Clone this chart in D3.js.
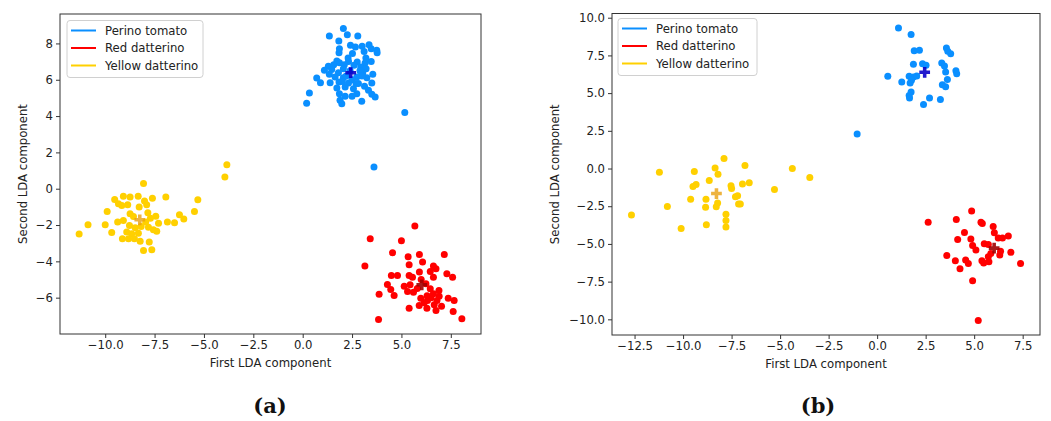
<!DOCTYPE html>
<html>
<head>
<meta charset="utf-8">
<script src="https://cdn.jsdelivr.net/npm/d3@7"></script>
<style>
  html, body { margin: 0; padding: 0; background: #fff; }
  svg { display: block; }
  text { font-family: "DejaVu Sans", sans-serif; }
</style>
</head>
<body>
<svg id="chart" width="1051" height="421"></svg>
<script>
// ---------- DATA ----------
const seriesNames = ["Perino tomato", "Red datterino", "Yellow datterino"];
const seriesColors = ["#0a8fff", "#ff0000", "#ffd000"];
const centroidColors = ["#0a00c8", "#a00000", "#e8a010"];

// Panel (a)
const aPerino = [[2.06,8.82],[1.35,8.41],[2.26,8.48],[2.79,8.41],[1.83,8.13],[2.42,7.90],[2.67,7.80],[3.01,7.84],[3.36,7.93],[3.47,7.71],[3.75,7.62],[3.77,7.49],[1.86,7.71],[1.84,7.49],[2.52,7.44],[3.11,7.56],[1.73,7.03],[1.86,6.94],[2.32,7.01],[2.76,6.98],[3.16,6.92],[3.47,7.00],[1.30,6.74],[1.57,6.83],[2.11,6.83],[2.94,6.70],[1.10,6.52],[1.47,6.56],[2.06,6.61],[3.21,6.61],[1.81,6.39],[1.35,6.30],[3.04,6.37],[3.55,6.30],[1.64,6.15],[2.06,6.11],[2.74,6.15],[3.25,6.11],[0.71,6.09],[0.90,5.84],[1.39,5.84],[1.84,5.87],[2.32,5.82],[2.82,5.79],[3.50,5.82],[1.73,5.54],[2.15,5.60],[2.57,5.51],[3.13,5.64],[3.33,5.42],[3.50,5.20],[1.86,5.23],[2.15,5.09],[2.74,5.23],[1.89,4.87],[2.50,5.09],[2.99,4.81],[1.98,4.68],[0.34,5.27],[0.20,4.70],[3.67,5.05],[2.2,6.2],[2.5,6.0],[2.9,6.5],[2.4,6.5],[2.7,5.8],[2.0,5.9],[3.0,6.2],[2.6,6.8],[2.3,7.2],[3.2,7.2],[5.17,4.20],[3.61,1.19]];
const aRed = [[5.68,-2.06],[3.42,-2.75],[5.00,-2.86],[3.15,-4.26],[4.55,-3.53],[5.34,-3.75],[5.91,-3.62],[7.17,-3.62],[5.39,-4.19],[6.07,-4.04],[6.62,-4.26],[6.75,-4.41],[5.91,-4.59],[6.46,-4.56],[4.49,-4.78],[4.80,-4.78],[5.39,-4.78],[5.56,-4.87],[6.62,-4.87],[7.30,-4.68],[7.59,-4.87],[4.29,-5.27],[5.14,-5.37],[5.44,-5.29],[6.24,-5.23],[6.46,-5.51],[4.46,-5.55],[5.31,-5.66],[5.61,-5.70],[6.62,-5.79],[6.91,-5.92],[7.37,-6.03],[7.67,-6.15],[3.87,-5.81],[4.63,-5.88],[5.98,-6.03],[6.32,-6.15],[6.80,-6.15],[5.90,-6.43],[6.15,-6.28],[6.66,-6.39],[7.03,-6.47],[5.39,-6.58],[6.29,-6.58],[6.75,-6.71],[7.62,-6.76],[3.84,-7.20],[8.06,-7.16],[6.0,-5.0],[6.3,-5.9],[6.5,-6.0],[5.8,-5.5],[6.9,-5.6]];
const aYellow = [[-8.06,0.28],[-9.52,-0.59],[-9.08,-0.42],[-8.74,-0.46],[-8.33,-0.41],[-7.61,-0.52],[-6.93,-0.46],[-9.33,-0.83],[-9.16,-0.92],[-8.86,-0.88],[-8.01,-0.68],[-8.28,-1.01],[-7.90,-0.88],[-9.90,-1.25],[-8.74,-1.38],[-7.84,-1.32],[-7.44,-1.51],[-8.57,-1.53],[-7.71,-1.62],[-9.37,-1.84],[-9.08,-1.75],[-7.95,-1.84],[-7.30,-1.90],[-6.85,-1.84],[-6.49,-1.87],[-6.24,-1.43],[-6.02,-1.67],[-5.48,-1.25],[-5.31,-0.61],[-10.87,-1.98],[-10.00,-1.98],[-11.32,-2.50],[-9.67,-2.41],[-8.77,-2.02],[-8.48,-2.15],[-8.18,-2.08],[-7.81,-2.12],[-7.56,-2.26],[-7.39,-2.34],[-8.91,-2.39],[-8.66,-2.48],[-8.32,-2.45],[-9.13,-2.76],[-8.82,-2.76],[-8.52,-2.76],[-8.23,-2.89],[-7.77,-2.94],[-8.06,-3.40],[-7.64,-3.36],[-3.84,1.32],[-3.94,0.64]];
const aCentroids = [[2.43,6.39],[6.03,-5.29],[-8.25,-1.71]];
const aXTicks = [-10,-7.5,-5,-2.5,0,2.5,5,7.5];
const aYTicks = [-6,-4,-2,0,2,4,6,8];

// Panel (b)
const bPerino = [[1.10,9.31],[1.75,8.89],[1.91,7.81],[2.18,7.85],[3.57,7.99],[3.79,7.61],[3.64,7.77],[1.87,6.91],[2.34,6.95],[2.52,6.84],[3.33,6.99],[3.47,6.79],[3.53,6.40],[4.06,6.49],[4.10,6.29],[0.55,6.11],[1.65,6.11],[1.87,6.07],[2.04,6.13],[1.77,5.85],[1.27,5.74],[1.70,5.67],[3.62,5.91],[3.36,5.56],[3.53,5.43],[1.75,5.07],[1.65,4.85],[1.67,4.68],[2.70,4.68],[3.26,4.57],[2.39,4.24],[-1.03,2.29]];
const bRed = [[4.87,-2.81],[2.63,-3.56],[4.08,-3.38],[5.35,-3.56],[5.42,-3.64],[5.98,-3.84],[6.04,-4.26],[4.50,-4.24],[4.15,-4.70],[4.83,-4.68],[6.24,-4.60],[6.46,-4.60],[6.76,-4.48],[4.92,-5.10],[5.09,-5.41],[5.52,-4.99],[5.73,-5.03],[6.36,-5.48],[6.32,-5.74],[6.89,-5.56],[7.39,-6.29],[3.59,-5.76],[4.03,-6.12],[4.56,-6.07],[4.70,-6.29],[4.27,-6.65],[5.40,-6.12],[5.49,-6.27],[5.76,-6.18],[5.73,-5.85],[5.86,-5.63],[4.92,-7.44],[5.21,-10.07]];
const bYellow = [[-7.89,0.66],[-11.22,-0.25],[-9.42,-0.20],[-8.35,0.04],[-8.20,-0.38],[-6.81,0.20],[-4.37,0.0],[-3.47,-0.60],[-8.65,-0.79],[-9.33,-1.06],[-9.49,-1.19],[-6.94,-1.02],[-6.59,-0.95],[-7.53,-1.15],[-7.50,-1.32],[-5.29,-1.39],[-9.61,-2.03],[-8.82,-2.03],[-7.30,-1.88],[-7.19,-1.81],[-8.22,-2.28],[-8.29,-2.54],[-8.84,-2.56],[-7.14,-2.36],[-7.05,-2.36],[-10.81,-2.52],[-12.66,-3.09],[-7.79,-3.03],[-7.79,-3.44],[-7.79,-3.87],[-8.80,-3.73],[-10.10,-3.97]];
const bCentroids = [[2.45,6.38],[6.03,-5.28],[-8.28,-1.66]];
const bXTicks = [-12.5,-10,-7.5,-5,-2.5,0,2.5,5,7.5];
const bYTicks = [-10,-7.5,-5,-2.5,0,2.5,5,7.5,10];

const xLabel = "First LDA component";
const yLabel = "Second LDA component";
const captions = ["(a)", "(b)"];

// ---------- DRAW ----------
const svg = d3.select("#chart");
const minus = s => s.replace(/-/g, "\u2212");

function padded(ext) {
  const r = ext[1] - ext[0];
  return [ext[0] - 0.05 * r, ext[1] + 0.05 * r];
}

function panel(cfg) {
  const { left, right, top, bottom, series, centroids, xTicks, yTicks, xFmt, yFmt, caption, legend } = cfg;
  const all = series.flat();
  const x = d3.scaleLinear().domain(padded(d3.extent(all, d => d[0]))).range([left, right]);
  const y = d3.scaleLinear().domain(padded(d3.extent(all, d => d[1]))).range([bottom, top]);
  const g = svg.append("g");

  // points
  series.forEach((pts, i) => {
    g.append("g").selectAll("circle").data(pts).join("circle")
      .attr("cx", d => x(d[0])).attr("cy", d => y(d[1])).attr("r", 3.5)
      .attr("fill", seriesColors[i]);
  });
  // centroids
  g.append("g").selectAll("path").data(centroids).join("path")
    .attr("transform", d => `translate(${x(d[0])},${y(d[1])})`)
    .attr("d", d3.symbol(d3.symbolCross, 64))
    .attr("fill", (d, i) => centroidColors[i]).attr("opacity", (d, i) => i === 2 ? 0.8 : 0.9);

  // axes
  const xa = g.append("g").attr("transform", `translate(0,${bottom})`)
    .call(d3.axisBottom(x).tickValues(xTicks).tickSize(4).tickPadding(3).tickFormat(d => minus(d3.format(xFmt)(d))));
  const ya = g.append("g").attr("transform", `translate(${left},0)`)
    .call(d3.axisLeft(y).tickValues(yTicks).tickSize(4).tickPadding(3).tickFormat(d => minus(d3.format(yFmt)(d))));
  [xa, ya].forEach(a => {
    a.select(".domain").remove();
    a.selectAll(".tick line").attr("stroke", "#333");
    a.selectAll(".tick text").attr("fill", "#222").style("font-size", "11.7px").style("font-family", "DejaVu Sans");
  });
  g.append("rect").attr("x", left).attr("y", top).attr("width", right - left).attr("height", bottom - top)
    .attr("fill", "none").attr("stroke", "#333").attr("stroke-width", 1);

  // labels
  g.append("text").attr("x", (left + right) / 2).attr("y", bottom + 33).attr("text-anchor", "middle")
    .style("font-size", "11.7px").attr("fill", "#222").text(xLabel);
  g.append("text").attr("transform", `translate(${cfg.yLabelX},${(top + bottom) / 2}) rotate(-90)`)
    .attr("text-anchor", "middle").style("font-size", "11.7px").attr("fill", "#222").text(yLabel);

  // caption
  g.append("text").attr("x", cfg.captionX).attr("y", 413).attr("text-anchor", "middle")
    .style("font-family", "'DejaVu Serif', serif").style("font-weight", "bold").style("font-size", "21px")
    .attr("fill", "#111").text(caption);

  // legend
  const lg = g.append("g").attr("transform", `translate(${legend.x},${legend.y})`);
  lg.append("rect").attr("width", legend.w).attr("height", 57).attr("rx", 3)
    .attr("fill", "#fff").attr("fill-opacity", 0.8).attr("stroke", "#d0d0d0");
  seriesNames.forEach((n, i) => {
    const yy = 10 + i * 17.5;
    lg.append("line").attr("x1", 4).attr("x2", 29).attr("y1", yy).attr("y2", yy)
      .attr("stroke", seriesColors[i]).attr("stroke-width", 2);
    lg.append("text").attr("x", 38).attr("y", yy).attr("dy", "0.35em")
      .style("font-size", "11.7px").attr("fill", "#222").text(n);
  });
}

panel({ left: 60, right: 481, top: 14, bottom: 334,
  series: [aPerino, aRed, aYellow], centroids: aCentroids,
  xTicks: aXTicks, yTicks: aYTicks, xFmt: ".1f", yFmt: "d",
  caption: captions[0], captionX: 270, yLabelX: 27,
  legend: { x: 67, y: 20.5, w: 136 } });

panel({ left: 612, right: 1040, top: 13.5, bottom: 335,
  series: [bPerino, bRed, bYellow], centroids: bCentroids,
  xTicks: bXTicks, yTicks: bYTicks, xFmt: ".1f", yFmt: ".1f",
  caption: captions[1], captionX: 818, yLabelX: 559,
  legend: { x: 618, y: 18.5, w: 139 } });
</script>
</body>
</html>
